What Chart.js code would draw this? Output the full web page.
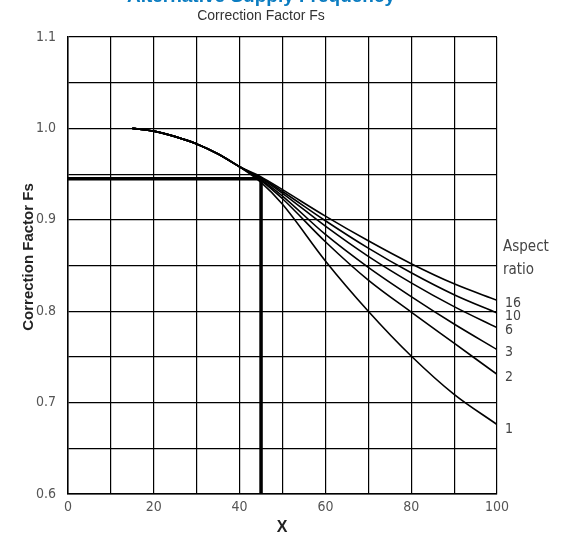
<!DOCTYPE html>
<html>
<head>
<meta charset="utf-8">
<script src="https://cdn.jsdelivr.net/npm/chart.js@4.4.1/dist/chart.umd.min.js"></script>
<style>
  html, body { margin: 0; padding: 0; background: #fff; }
  #wrap { width: 565px; height: 538px; position: relative; }
</style>
</head>
<body>
<div id="wrap"><canvas id="fsChart"></canvas></div>
<script>
var xVals = [15, 20, 25, 30, 35, 40, 45, 50, 60, 70, 80, 90, 100];

// correction factor per aspect ratio
var ratio16 = [1.0, 0.997, 0.991, 0.983, 0.972, 0.958, 0.947, 0.933, 0.904, 0.877, 0.852, 0.830, 0.812];
var ratio10 = [1.0, 0.997, 0.991, 0.983, 0.972, 0.958, 0.946, 0.931, 0.899, 0.869, 0.842, 0.818, 0.798];
var ratio6  = [1.0, 0.997, 0.991, 0.983, 0.972, 0.958, 0.945, 0.929, 0.893, 0.860, 0.831, 0.805, 0.782];
var ratio3  = [1.0, 0.997, 0.991, 0.983, 0.972, 0.958, 0.944, 0.926, 0.884, 0.848, 0.816, 0.786, 0.758];
var ratio2  = [1.0, 0.997, 0.991, 0.983, 0.972, 0.958, 0.943, 0.923, 0.876, 0.834, 0.799, 0.765, 0.731];
var ratio1  = [1.0, 0.997, 0.991, 0.983, 0.972, 0.958, 0.941, 0.917, 0.855, 0.800, 0.751, 0.709, 0.676];

var ratioNames = ['16', '10', '6', '3', '2', '1'];

// the worked example (heavy lines)
var markX = [0, 45, 45];
var markY = [0.945, 0.945, 0.6];

var tickFont = "'Liberation Sans Narrow', 'DejaVu Sans Condensed', Arial, sans-serif";

function toPoints(ys) {
  return xVals.map(function(x, i) { return { x: x, y: ys[i] }; });
}

var curves = [ratio16, ratio10, ratio6, ratio3, ratio2, ratio1];
var datasets = curves.map(function(c, i) {
  return {
    label: ratioNames[i],
    data: toPoints(c),
    borderColor: '#000',
    borderWidth: 1.6,
    pointRadius: 0,
    fill: false,
    cubicInterpolationMode: 'monotone'
  };
});
datasets.push({
  label: 'example',
  data: markX.map(function(x, i) { return { x: x, y: markY[i] }; }),
  borderColor: '#000',
  borderWidth: 3.5,
  pointRadius: 0,
  fill: false,
  tension: 0
});

// titles and the aspect ratio labels at the right
var textPlugin = {
  id: 'texts',
  afterDraw: function(chart) {
    var c = chart.ctx;
    var ys = chart.scales.y, xs = chart.scales.x;
    c.save();
    c.textAlign = 'center';
    c.textBaseline = 'alphabetic';
    c.fillStyle = '#0a7cc1';
    c.font = "bold 19px 'Liberation Sans', Arial, sans-serif";
    c.fillText('Alternative Supply Frequency', 261, 2);
    c.fillStyle = '#333';
    c.font = "14px 'Liberation Sans', Arial, sans-serif";
    c.fillText('Correction Factor Fs', 261, 20);

    c.fillStyle = '#222';
    c.font = "bold 16px 'Liberation Sans', Arial, sans-serif";
    c.textBaseline = 'middle';
    c.fillText('X', 282, 528);

    c.save();
    c.translate(33, 257);
    c.rotate(-Math.PI / 2);
    c.textBaseline = 'alphabetic';
    c.font = "bold 15px 'Liberation Sans', Arial, sans-serif";
    c.fillText('Correction Factor Fs', 0, 0);
    c.restore();

    c.textAlign = 'left';
    c.fillStyle = '#444';
    c.font = "15px " + tickFont;
    c.fillText('Aspect', 503, 247);
    c.fillText('ratio', 503, 270);
    c.font = "14px " + tickFont;
    curves.forEach(function(cv, i) {
      var yp = ys.getPixelForValue(cv[cv.length - 1]);
      c.fillText(ratioNames[i], xs.right + 8, yp + (i === 5 ? 5 : 3));
    });
    c.restore();
  }
};

new Chart(document.getElementById('fsChart'), {
  type: 'line',
  data: { datasets: datasets },
  options: {
    responsive: true,
    maintainAspectRatio: false,
    animation: false,
    layout: { padding: { top: 37, right: 68, left: 0, bottom: 0 } },
    plugins: { legend: { display: false }, tooltip: { enabled: false } },
    scales: {
      x: {
        type: 'linear',
        min: 0, max: 100,
        afterFit: function(s) { s.height = 44; },
        grid: { color: '#000', lineWidth: 1.2, drawTicks: false },
        border: { color: '#000', width: 1.5 },
        ticks: {
          stepSize: 10,
          padding: 5,
          maxRotation: 0,
          autoSkip: false,
          color: '#555',
          font: { family: tickFont, size: 14 },
          callback: function(v) { return v % 20 === 0 ? String(v) : ''; }
        }
      },
      y: {
        type: 'linear',
        min: 0.6, max: 1.1,
        afterFit: function(s) { s.width = 68; },
        grid: { color: '#000', lineWidth: 1.2, drawTicks: false },
        border: { color: '#000', width: 1.5 },
        ticks: {
          stepSize: 0.05,
          padding: 12,
          autoSkip: false,
          color: '#555',
          font: { family: tickFont, size: 14 },
          callback: function(v) {
            var r = Math.round(v * 100);
            return r % 10 === 0 ? (r / 100).toFixed(1) : '';
          }
        }
      }
    }
  },
  plugins: [textPlugin]
});
</script>
</body>
</html>
